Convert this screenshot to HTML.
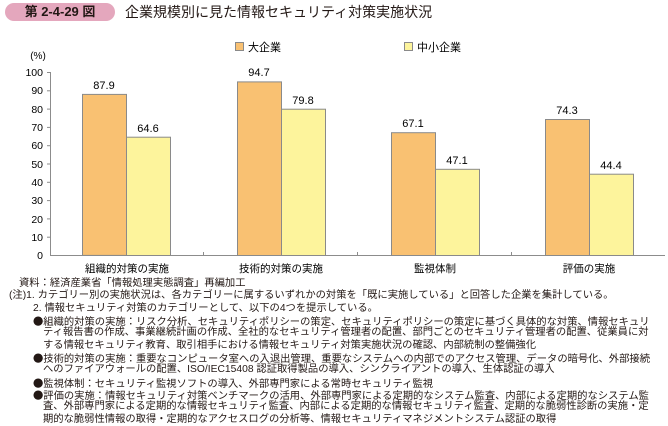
<!DOCTYPE html><html><head><meta charset="utf-8"><style>
body{margin:0;width:668px;height:426px;background:#fff;font-family:"Liberation Sans","Noto Sans CJK JP",sans-serif;color:#231815;position:relative;overflow:hidden}
.a{position:absolute;white-space:nowrap}
.n{font-size:10.3px;line-height:12.3px}
.b{font-family:"Noto Sans CJK JP",sans-serif}
</style></head><body>
<div class="a" style="left:5px;top:3px;width:110px;height:18px;border-radius:9px;background:#e4a7bd;font-size:13px;line-height:18px;text-align:center;font-weight:bold">第 2-4-29 図</div>
<div class="a" style="left:125px;top:3px;font-size:14px;line-height:18px">企業規模別に見た情報セキュリティ対策実施状況</div>
<svg class="a" style="left:0;top:0" width="668" height="280" font-family="Liberation Sans, Noto Sans CJK JP, sans-serif">
<text x="38" y="59" font-size="10" text-anchor="middle">(%)</text>
<g font-size="10.5" text-anchor="end">
<text x="43" y="76">100</text><text x="43" y="94">90</text><text x="43" y="113">80</text><text x="43" y="131">70</text><text x="43" y="149">60</text><text x="43" y="168">50</text><text x="43" y="186">40</text><text x="43" y="204">30</text><text x="43" y="223">20</text><text x="43" y="241">10</text><text x="43" y="259">0</text></g>
<g stroke="#8c8c8c" stroke-width="1">
<line x1="50.5" y1="72" x2="50.5" y2="255.5"/><line x1="50" y1="255.5" x2="665" y2="255.5"/>
<line x1="47" y1="72.5" x2="50" y2="72.5"/><line x1="47" y1="90.8" x2="50" y2="90.8"/><line x1="47" y1="109.1" x2="50" y2="109.1"/><line x1="47" y1="127.4" x2="50" y2="127.4"/><line x1="47" y1="145.7" x2="50" y2="145.7"/><line x1="47" y1="164" x2="50" y2="164"/><line x1="47" y1="182.3" x2="50" y2="182.3"/><line x1="47" y1="200.6" x2="50" y2="200.6"/><line x1="47" y1="218.9" x2="50" y2="218.9"/><line x1="47" y1="237.2" x2="50" y2="237.2"/>
<line x1="203.5" y1="252" x2="203.5" y2="255"/><line x1="357.5" y1="252" x2="357.5" y2="255"/><line x1="511.5" y1="252" x2="511.5" y2="255"/>
</g>
<g stroke="#8a8a8a" stroke-width="1">
<rect x="82.5" y="94.4" width="44" height="161" fill="#f9c172"/><rect x="126.5" y="137.2" width="44" height="118.3" fill="#fdf49c"/>
<rect x="237.5" y="81.9" width="44" height="173.6" fill="#f9c172"/><rect x="281.5" y="109.2" width="44" height="146.3" fill="#fdf49c"/>
<rect x="391.5" y="132.7" width="44" height="122.8" fill="#f9c172"/><rect x="435.5" y="169.3" width="44" height="86.2" fill="#fdf49c"/>
<rect x="545.5" y="119.5" width="44" height="136" fill="#f9c172"/><rect x="589.5" y="174.2" width="44" height="81.3" fill="#fdf49c"/>
<rect x="235.5" y="42.5" width="8" height="8" fill="#f9c172"/><rect x="404.5" y="42.5" width="8" height="8" fill="#fdf49c"/>
</g>
<text x="248" y="51" font-size="11">大企業</text><text x="417" y="51" font-size="11">中小企業</text>
<g font-size="11" text-anchor="middle">
<text x="104" y="89">87.9</text><text x="148" y="132">64.6</text>
<text x="259" y="76">94.7</text><text x="303" y="104">79.8</text>
<text x="413" y="127">67.1</text><text x="457" y="164">47.1</text>
<text x="567" y="114">74.3</text><text x="611" y="169">44.4</text></g>
<g font-size="10.5" text-anchor="middle">
<text x="127" y="272">組織的対策の実施</text><text x="281" y="272">技術的対策の実施</text><text x="435" y="272">監視体制</text><text x="589" y="272">評価の実施</text></g>
</svg>
<div class="a n" style="left:19px;top:278px">資料：経済産業省「情報処理実態調査」再編加工</div>
<div class="a n" style="left:9px;top:290px">(注)1. カテゴリー別の実施状況は、各カテゴリーに属するいずれかの対策を「既に実施している」と回答した企業を集計している。</div>
<div class="a n" style="left:33px;top:302.5px">2. 情報セキュリティ対策のカテゴリーとして、以下の4つを提示している。</div>
<div class="a n" style="left:33px;top:315px"><span class="b">●</span>組織的対策の実施：リスク分析、セキュリティポリシーの策定、セキュリティポリシーの策定に基づく具体的な対策、情報セキュリ</div>
<div class="a n" style="left:43px;top:327px">ティ報告書の作成、事業継続計画の作成、全社的なセキュリティ管理者の配置、部門ごとのセキュリティ管理者の配置、従業員に対</div>
<div class="a n" style="left:43px;top:339.5px">する情報セキュリティ教育、取引相手における情報セキュリティ対策実施状況の確認、内部統制の整備強化</div>
<div class="a n" style="left:33px;top:352px"><span class="b">●</span>技術的対策の実施：重要なコンピュータ室への入退出管理、重要なシステムへの内部でのアクセス管理、データの暗号化、外部接続</div>
<div class="a n" style="left:43px;top:364px">へのファイアウォールの配置、ISO/IEC15408 認証取得製品の導入、シンクライアントの導入、生体認証の導入</div>
<div class="a n" style="left:33px;top:376.5px"><span class="b">●</span>監視体制：セキュリティ監視ソフトの導入、外部専門家による常時セキュリティ監視</div>
<div class="a n" style="left:33px;top:389px"><span class="b">●</span>評価の実施：情報セキュリティ対策ベンチマークの活用、外部専門家による定期的なシステム監査、内部による定期的なシステム監</div>
<div class="a n" style="left:43px;top:401px">査、外部専門家による定期的な情報セキュリティ監査、内部による定期的な情報セキュリティ監査、定期的な脆弱性診断の実施・定</div>
<div class="a n" style="left:43px;top:413.5px">期的な脆弱性情報の取得・定期的なアクセスログの分析等、情報セキュリティマネジメントシステム認証の取得</div>
</body></html>
